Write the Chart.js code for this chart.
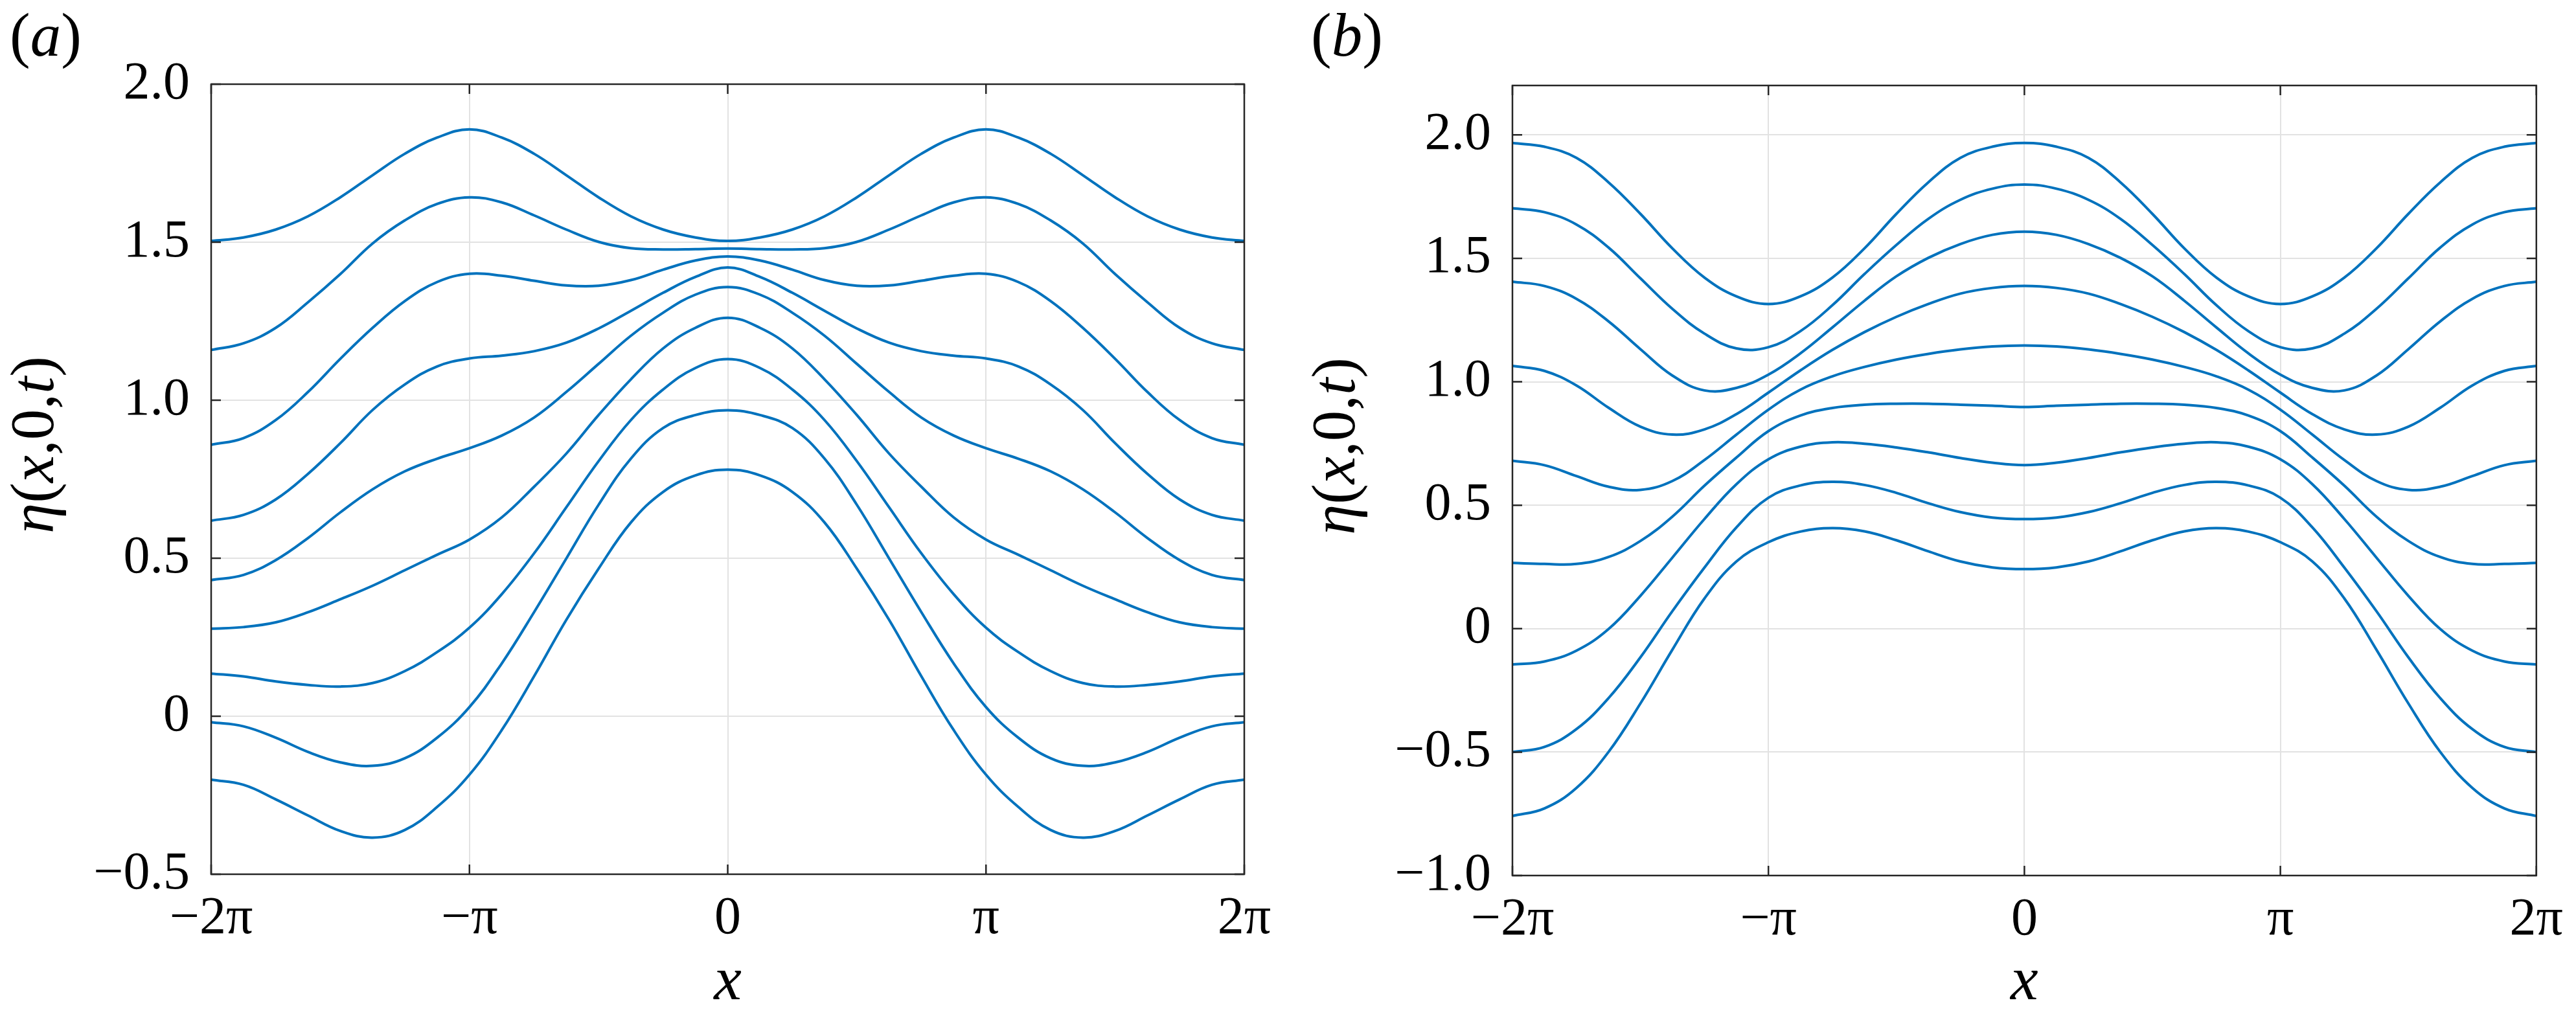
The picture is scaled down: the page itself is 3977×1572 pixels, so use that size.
<!DOCTYPE html>
<html lang="en">
<head>
<meta charset="UTF-8">
<title>Free-surface elevation profiles</title>
<script src="https://cdn.jsdelivr.net/npm/chart.js"></script>
<style>
    body { margin: 0; background: #fff; }
    #page { position: relative; width: 3977px; height: 1572px; }
    .panel { position: absolute; top: 0; height: 1572px; }
    #panelA { left: 0; width: 1988px; }
    #panelB { left: 1988px; width: 1989px; }
</style>
</head>
<body>
<div id="page">
    <div class="panel" id="panelA"><canvas id="chartA"></canvas></div>
    <div class="panel" id="panelB"><canvas id="chartB"></canvas></div>
</div>
<script>
// x samples in units of pi/8, from -2pi to 2pi
const xEighths = [-16, -15, -14, -13, -12, -11, -10, -9, -8, -7, -6, -5, -4, -3, -2, -1, 0,
                  1, 2, 3, 4, 5, 6, 7, 8, 9, 10, 11, 12, 13, 14, 15, 16];

const xTickValues = [-2 * Math.PI, -Math.PI, 0, Math.PI, 2 * Math.PI];
const xTickLabels = ['\u22122\u03c0', '\u2212\u03c0', '0', '\u03c0', '2\u03c0'];

const yTicksA = [-0.5, 0, 0.5, 1.0, 1.5, 2.0];
const yLabelsA = ['\u22120.5', '0', '0.5', '1.0', '1.5', '2.0'];
const yTicksB = [-1.0, -0.5, 0, 0.5, 1.0, 1.5, 2.0];
const yLabelsB = ['\u22121.0', '\u22120.5', '0', '0.5', '1.0', '1.5', '2.0'];

// panel (a): eta(x,0,t) at successive times
const a1 = [1.504, 1.515, 1.540, 1.582, 1.642, 1.712, 1.780, 1.831, 1.857, 1.831, 1.780, 1.712, 1.642, 1.582, 1.540, 1.515, 1.504,
            1.515, 1.540, 1.582, 1.642, 1.712, 1.780, 1.831, 1.857, 1.831, 1.780, 1.712, 1.642, 1.582, 1.540, 1.515, 1.504];
const a2 = [1.159, 1.180, 1.229, 1.310, 1.399, 1.496, 1.569, 1.621, 1.642, 1.626, 1.585, 1.540, 1.501, 1.481, 1.477, 1.478, 1.480,
            1.478, 1.477, 1.481, 1.501, 1.540, 1.585, 1.626, 1.642, 1.621, 1.569, 1.496, 1.399, 1.310, 1.229, 1.180, 1.159];
const a3 = [0.859, 0.880, 0.937, 1.026, 1.131, 1.229, 1.314, 1.374, 1.400, 1.394, 1.378, 1.363, 1.362, 1.380, 1.413, 1.442, 1.455,
            1.442, 1.413, 1.380, 1.362, 1.363, 1.378, 1.394, 1.400, 1.374, 1.314, 1.229, 1.131, 1.026, 0.937, 0.880, 0.859];
const a4 = [0.619, 0.637, 0.686, 0.767, 0.864, 0.969, 1.050, 1.107, 1.132, 1.141, 1.155, 1.182, 1.227, 1.283, 1.340, 1.390, 1.420,
            1.390, 1.340, 1.283, 1.227, 1.182, 1.155, 1.141, 1.132, 1.107, 1.050, 0.969, 0.864, 0.767, 0.686, 0.637, 0.619];
const a5 = [0.431, 0.447, 0.494, 0.564, 0.645, 0.718, 0.775, 0.815, 0.848, 0.888, 0.945, 1.026, 1.115, 1.204, 1.277, 1.334, 1.358,
            1.334, 1.277, 1.204, 1.115, 1.026, 0.945, 0.888, 0.848, 0.815, 0.775, 0.718, 0.645, 0.564, 0.494, 0.447, 0.431];
const a6 = [0.277, 0.282, 0.297, 0.329, 0.370, 0.413, 0.462, 0.511, 0.559, 0.629, 0.726, 0.831, 0.953, 1.066, 1.164, 1.229, 1.261,
            1.229, 1.164, 1.066, 0.953, 0.831, 0.726, 0.629, 0.559, 0.511, 0.462, 0.413, 0.370, 0.329, 0.297, 0.282, 0.277];
const a7 = [0.135, 0.126, 0.110, 0.099, 0.094, 0.105, 0.143, 0.203, 0.280, 0.386, 0.515, 0.661, 0.807, 0.937, 1.034, 1.102, 1.130,
            1.102, 1.034, 0.937, 0.807, 0.661, 0.515, 0.386, 0.280, 0.203, 0.143, 0.105, 0.094, 0.099, 0.110, 0.126, 0.135];
const a8 = [-0.019, -0.032, -0.068, -0.113, -0.146, -0.157, -0.133, -0.068, 0.029, 0.167, 0.329, 0.499, 0.669, 0.815, 0.912, 0.953, 0.968,
            0.953, 0.912, 0.815, 0.669, 0.499, 0.329, 0.167, 0.029, -0.068, -0.133, -0.157, -0.146, -0.113, -0.068, -0.032, -0.019];
const a9 = [-0.201, -0.217, -0.263, -0.314, -0.363, -0.384, -0.360, -0.287, -0.185, -0.044, 0.126, 0.305, 0.467, 0.613, 0.710, 0.762, 0.780,
            0.762, 0.710, 0.613, 0.467, 0.305, 0.126, -0.044, -0.185, -0.287, -0.360, -0.384, -0.363, -0.314, -0.263, -0.217, -0.201];

// panel (b)
const b1 = [1.967, 1.952, 1.907, 1.808, 1.680, 1.540, 1.422, 1.346, 1.315, 1.346, 1.422, 1.540, 1.680, 1.808, 1.907, 1.952, 1.967,
            1.952, 1.907, 1.808, 1.680, 1.540, 1.422, 1.346, 1.315, 1.346, 1.422, 1.540, 1.680, 1.808, 1.907, 1.952, 1.967];
const b2 = [1.703, 1.687, 1.637, 1.544, 1.419, 1.295, 1.195, 1.135, 1.140, 1.205, 1.310, 1.436, 1.554, 1.660, 1.737, 1.782, 1.799,
            1.782, 1.737, 1.660, 1.554, 1.436, 1.310, 1.205, 1.140, 1.135, 1.195, 1.295, 1.419, 1.544, 1.637, 1.687, 1.703];
const b3 = [1.405, 1.388, 1.336, 1.245, 1.132, 1.025, 0.965, 0.975, 1.029, 1.115, 1.220, 1.328, 1.427, 1.502, 1.558, 1.595, 1.608,
            1.595, 1.558, 1.502, 1.427, 1.328, 1.220, 1.115, 1.029, 0.975, 0.965, 1.025, 1.132, 1.245, 1.336, 1.388, 1.405];
const b4 = [1.064, 1.044, 0.985, 0.895, 0.818, 0.786, 0.807, 0.869, 0.956, 1.046, 1.129, 1.201, 1.263, 1.315, 1.357, 1.380, 1.388,
            1.380, 1.357, 1.315, 1.263, 1.201, 1.129, 1.046, 0.956, 0.869, 0.807, 0.786, 0.818, 0.895, 0.985, 1.044, 1.064];
const b5 = [0.680, 0.662, 0.618, 0.575, 0.562, 0.598, 0.683, 0.786, 0.887, 0.968, 1.022, 1.060, 1.090, 1.113, 1.131, 1.143, 1.147,
            1.143, 1.131, 1.113, 1.090, 1.060, 1.022, 0.968, 0.887, 0.786, 0.683, 0.598, 0.562, 0.575, 0.618, 0.662, 0.680];
const b6 = [0.266, 0.262, 0.262, 0.290, 0.355, 0.454, 0.579, 0.693, 0.800, 0.863, 0.894, 0.907, 0.911, 0.911, 0.907, 0.903, 0.898,
            0.903, 0.907, 0.911, 0.911, 0.907, 0.894, 0.863, 0.800, 0.693, 0.579, 0.454, 0.355, 0.290, 0.262, 0.262, 0.266];
const b7 = [-0.145, -0.133, -0.089, -0.002, 0.133, 0.288, 0.444, 0.585, 0.686, 0.737, 0.755, 0.749, 0.734, 0.714, 0.691, 0.672, 0.662,
            0.672, 0.691, 0.714, 0.734, 0.749, 0.755, 0.737, 0.686, 0.585, 0.444, 0.288, 0.133, -0.002, -0.089, -0.133, -0.145];
const b8 = [-0.500, -0.479, -0.407, -0.282, -0.116, 0.071, 0.247, 0.410, 0.530, 0.580, 0.595, 0.582, 0.550, 0.508, 0.472, 0.450, 0.444,
            0.450, 0.472, 0.508, 0.550, 0.582, 0.595, 0.580, 0.530, 0.410, 0.247, 0.071, -0.116, -0.282, -0.407, -0.479, -0.500];
const b9 = [-0.759, -0.728, -0.645, -0.500, -0.303, -0.085, 0.122, 0.272, 0.350, 0.393, 0.407, 0.394, 0.358, 0.313, 0.272, 0.248, 0.241,
            0.248, 0.272, 0.313, 0.358, 0.394, 0.407, 0.393, 0.350, 0.272, 0.122, -0.085, -0.303, -0.500, -0.645, -0.728, -0.759];

const LINE_COLOR = '#0072bd';
const AXIS_COLOR = '#262626';
const GRID_COLOR = '#e2e2e2';
const SERIF = '"Liberation Serif", "Times New Roman", serif';

const xs = xEighths.map(k => k * Math.PI / 8);

function toDatasets(series) {
    return series.map(s => ({
        data: s.map((y, i) => ({ x: xs[i], y: y })),
        borderColor: LINE_COLOR,
        borderWidth: 4,
        pointRadius: 0,
        fill: false,
        tension: 0.4
    }));
}

// centred run of text where some pieces are italic
function drawRich(ctx, parts, x, y, size) {
    let total = 0;
    const widths = parts.map(p => {
        ctx.font = (p[1] ? 'italic ' : '') + size + 'px ' + SERIF;
        const w = ctx.measureText(p[0]).width;
        total += w;
        return w;
    });
    let cx = x - total / 2;
    ctx.textAlign = 'left';
    ctx.textBaseline = 'alphabetic';
    parts.forEach((p, i) => {
        ctx.font = (p[1] ? 'italic ' : '') + size + 'px ' + SERIF;
        ctx.fillText(p[0], cx, y);
        cx += widths[i];
    });
}

function drawRichLeft(ctx, parts, x, y, size) {
    ctx.textAlign = 'left';
    ctx.textBaseline = 'alphabetic';
    let cx = x;
    parts.forEach(p => {
        ctx.font = (p[1] ? 'italic ' : '') + size + 'px ' + SERIF;
        ctx.fillText(p[0], cx, y);
        cx += ctx.measureText(p[0]).width;
    });
}

const etaLabel = [['\u03b7', true], ['(', false], ['x', true], [',', false], ['0', false], [',', false], ['t', true], [')', false]];

// box, inward tick marks and the math labels
const framePlugin = {
    id: 'frame',
    afterDraw(chart, args, opts) {
        const ctx = chart.ctx;
        const a = chart.chartArea;
        const sx = chart.scales.x, sy = chart.scales.y;
        ctx.save();
        ctx.strokeStyle = AXIS_COLOR;
        ctx.lineWidth = 2.5;
        ctx.beginPath();
        sx.ticks.forEach(t => {
            const px = sx.getPixelForValue(t.value);
            ctx.moveTo(px, a.bottom); ctx.lineTo(px, a.bottom - 15);
            ctx.moveTo(px, a.top); ctx.lineTo(px, a.top + 15);
        });
        sy.ticks.forEach(t => {
            const py = sy.getPixelForValue(t.value);
            ctx.moveTo(a.left, py); ctx.lineTo(a.left + 15, py);
            ctx.moveTo(a.right, py); ctx.lineTo(a.right - 15, py);
        });
        ctx.stroke();
        ctx.strokeRect(a.left, a.top, a.right - a.left, a.bottom - a.top);

        ctx.fillStyle = '#000';
        drawRichLeft(ctx, [['(', false], [opts.tag, true], [')', false]], a.left - 311, 86, 95);
        drawRich(ctx, [['x', true]], (a.left + a.right) / 2, 1543, 96);
        ctx.translate(a.left - 244, a.top + 557);
        ctx.rotate(-Math.PI / 2);
        drawRich(ctx, etaLabel, 0, 0, 95);
        ctx.restore();
    }
};

function makeChart(canvasId, series, yMin, yMax, yTicks, yLabels, pad, yWidth, xHeight, tag) {
    return new Chart(document.getElementById(canvasId), {
        type: 'line',
        data: { datasets: toDatasets(series) },
        options: {
            responsive: true,
            maintainAspectRatio: false,
            devicePixelRatio: 1,
            animation: false,
            events: [],
            layout: { padding: pad },
            plugins: {
                legend: { display: false },
                tooltip: { enabled: false },
                frame: { tag: tag }
            },
            scales: {
                x: {
                    type: 'linear',
                    min: -2 * Math.PI,
                    max: 2 * Math.PI,
                    afterBuildTicks: s => { s.ticks = xTickValues.map(v => ({ value: v })); },
                    afterFit: s => { s.height = xHeight; },
                    grid: { color: GRID_COLOR, lineWidth: 2, drawTicks: false },
                    border: { display: false },
                    ticks: {
                        padding: 20,
                        color: '#000',
                        maxRotation: 0,
                        font: { family: SERIF, size: 82 },
                        callback: (v, i) => xTickLabels[i]
                    }
                },
                y: {
                    type: 'linear',
                    min: yMin,
                    max: yMax,
                    afterBuildTicks: s => { s.ticks = yTicks.map(v => ({ value: v })); },
                    afterFit: s => { s.width = yWidth; },
                    grid: { color: GRID_COLOR, lineWidth: 2, drawTicks: false },
                    border: { display: false },
                    ticks: {
                        padding: 33,
                        color: '#000',
                        font: { family: SERIF, size: 82 },
                        callback: (v, i) => yLabels[i]
                    }
                }
            }
        },
        plugins: [framePlugin]
    });
}

makeChart('chartA', [a1, a2, a3, a4, a5, a6, a7, a8, a9], -0.5, 2.0, yTicksA, yLabelsA,
          { left: 0, top: 130, right: 67, bottom: 0 }, 326, 222, 'a');
makeChart('chartB', [b1, b2, b3, b4, b5, b6, b7, b8, b9], -1.0, 2.2, yTicksB, yLabelsB,
          { left: 0, top: 132, right: 46, bottom: 0 }, 347, 220, 'b');
</script>
</body>
</html>
